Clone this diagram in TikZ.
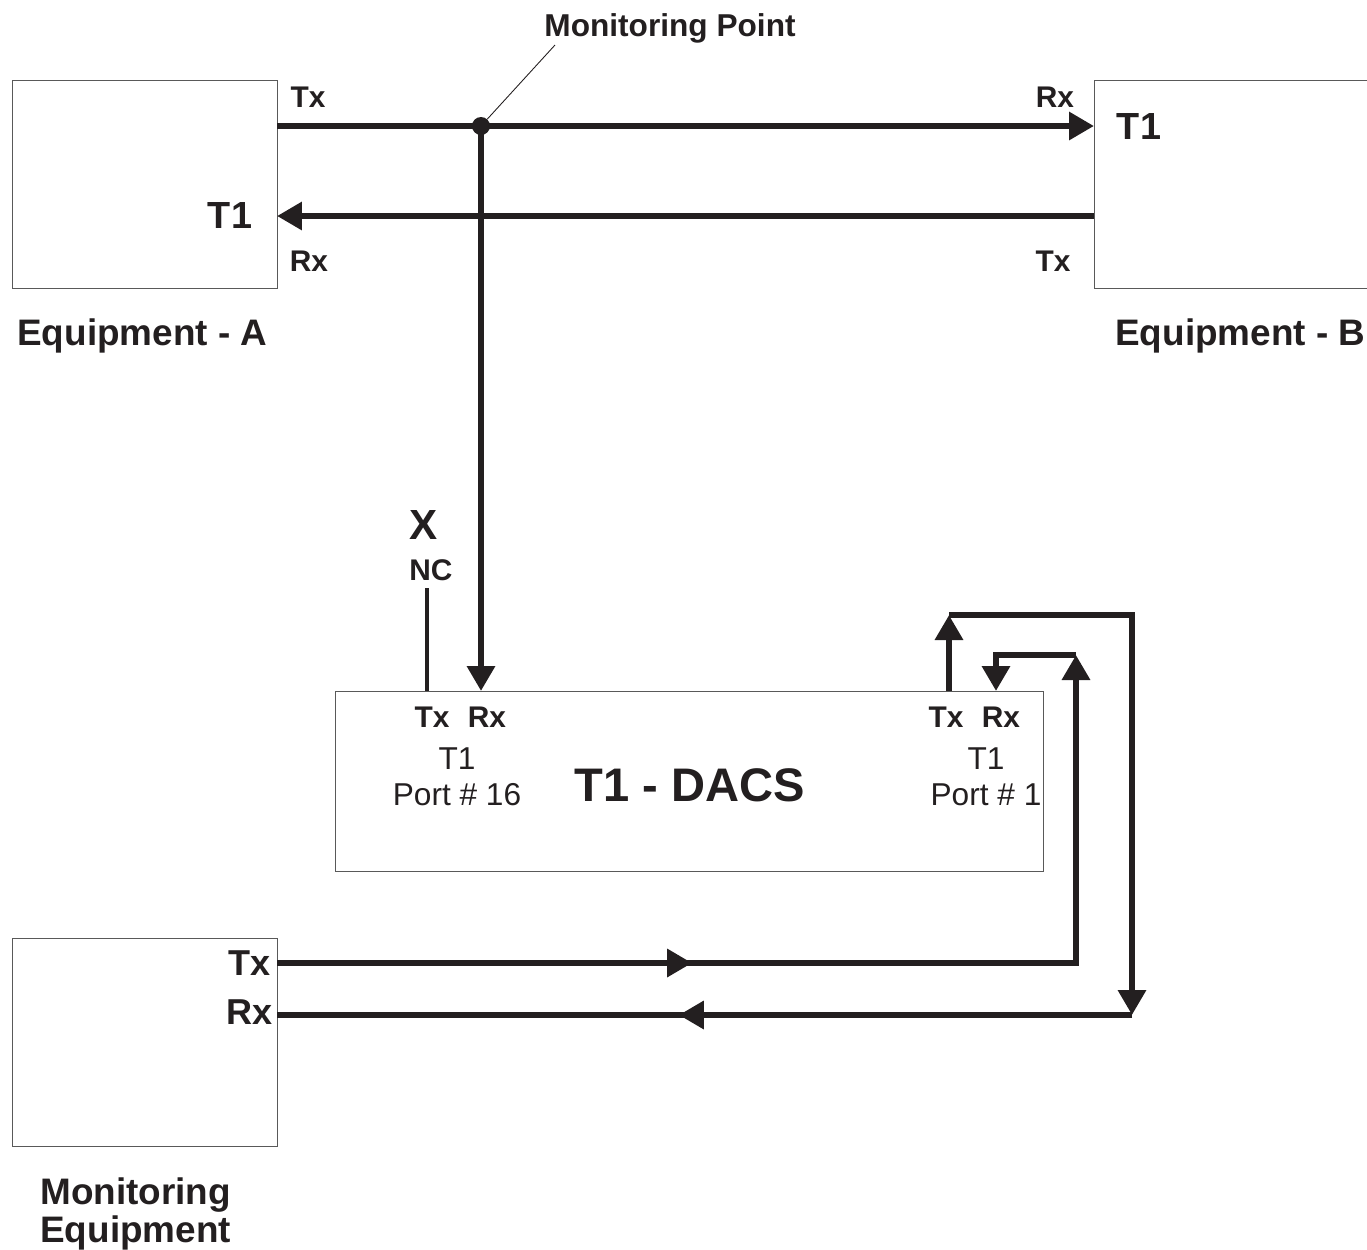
\documentclass[tikz,border=0pt]{standalone}
\usepackage{fontspec}
\setmainfont{Liberation Sans}
\usetikzlibrary{arrows.meta,decorations.markings}
\definecolor{ink}{HTML}{231F20}

\begin{document}
\begin{tikzpicture}[x=0.02cm,y=-0.02cm]
    \tikzstyle{box}=[rectangle, draw=black!65, line width=0.6pt, anchor=north west, inner sep=0]
    \tikzstyle{line}=[ink, line width=0.125cm]
    \tikzstyle{tip}=[-{Triangle[length=0.5cm,width=0.54cm]}]
    \tikzstyle{lbl}=[ink, inner sep=0, font=\bfseries\fontsize{17}{20}\selectfont]
    \tikzstyle{big}=[ink, inner sep=0, font=\bfseries\fontsize{21.5}{25}\selectfont]
    \tikzstyle{port}=[ink, inner sep=0, align=center, font=\fontsize{18}{20.5}\selectfont]
    \tikzstyle{dot}=[circle, fill=ink, inner sep=0, minimum size=0.36cm]
    \tikzstyle{midtip}=[postaction={decorate}, decoration={markings,
        mark=at position #1 with {\arrow{Triangle[length=0.5cm,width=0.54cm]}}}]
    \clip (0,0) rectangle (1367,1249);
    % equipment boxes
    \node[box, minimum width=5.3cm, minimum height=4.16cm] (eqA) at (12,80) {};
    \node[box, minimum width=5.8cm, minimum height=4.16cm] (eqB) at (1094,80) {};
    \node[box, minimum width=14.16cm, minimum height=3.6cm] (dacs) at (335,691) {};
    \node[box, minimum width=5.3cm, minimum height=4.16cm] (mon) at (12,938) {};
    % port coordinates
    \coordinate (aTx) at (277,126);
    \coordinate (aRx) at (277,216);
    \coordinate (bRx) at (1094,126);
    \coordinate (bTx) at (1094,216);
    \coordinate (p16Tx) at (427,691);
    \coordinate (p16Rx) at (481,691);
    \coordinate (p1Tx) at (949,691);
    \coordinate (p1Rx) at (996,691);
    \coordinate (mTx) at (277,963);
    \coordinate (mRx) at (277,1015);
    \coordinate (ncEnd) at (427,588);
    \coordinate (loopIn) at (1076,655);
    \coordinate (loopOut) at (949,615);
    \coordinate (loopDown) at (1132,1015);
    % monitoring point
    \node[dot] (mp) at (481,126) {};
    \node[lbl, font=\bfseries\fontsize{18}{21}\selectfont] (mptext) at (670,28) {Monitoring Point};
    \coordinate (mpLead) at (555,45);
    \draw[ink, line width=0.5pt] (mp) -- (mpLead);
    % T1 lines between A and B
    \draw[line, tip] (aTx) -- (bRx);
    \draw[line, tip] (bTx) -- (aRx);
    \draw[line, tip] (mp.center) -- (p16Rx);
    \draw[ink, line width=0.08cm] (ncEnd) -- (p16Tx);
    % loop through port 1
    \draw[line, tip, midtip=0.375] (mTx) -| (loopIn);
    \draw[line, tip] (loopIn) -| (p1Rx);
    \draw[line, tip] (p1Tx) -- (loopOut);
    \draw[line, tip] (loopOut) -| (loopDown);
    \draw[line, midtip=0.53] (loopDown) -- (mRx);
    % labels
    \node[lbl] (aTxL) at (308,97) {Tx};
    \node[lbl] (aRxL) at (309,261) {Rx};
    \node[lbl] (bRxL) at (1055,97) {Rx};
    \node[lbl] (bTxL) at (1053,261) {Tx};
    \node[big] (aT1) at (230,215) {T1};
    \node[big] (bT1) at (1139,126) {T1};
    \node[big, anchor=base west, font=\bfseries\fontsize{21}{25}\selectfont] (eqAL) at (17,345) {Equipment - A};
    \node[big, anchor=base west, font=\bfseries\fontsize{21}{25}\selectfont] (eqBL) at (1115,345) {Equipment - B};
    \node[big, anchor=base west, font=\bfseries\fontsize{21}{25}\selectfont] (monL1) at (40,1204) {Monitoring};
    \node[big, anchor=base west, font=\bfseries\fontsize{21}{25}\selectfont] (monL2) at (40,1242) {Equipment};
    \node[big, anchor=east, font=\bfseries\fontsize{20.5}{24}\selectfont] (mTxL) at (271,963) {Tx};
    \node[big, anchor=east, font=\bfseries\fontsize{20.5}{24}\selectfont] (mRxL) at (273,1012) {Rx};
    \node[big, font=\bfseries\fontsize{24}{28}\selectfont] (x) at (424,525) {X};
    \node[lbl] (nc) at (431,570) {NC};
    \node[lbl] (p16TxL) at (432,717) {Tx};
    \node[lbl] (p16RxL) at (487,717) {Rx};
    \node[lbl] (p1TxL) at (946,717) {Tx};
    \node[lbl] (p1RxL) at (1001,717) {Rx};
    \node[port] (p16L) at (457,777) {T1\\Port \# 16};
    \node[port] (p1L) at (986,777) {T1\\Port \# 1};
    \node[big, font=\bfseries\fontsize{26.8}{31}\selectfont] (dacsL) at (690,785) {T1 - DACS};
\end{tikzpicture}
\end{document}
